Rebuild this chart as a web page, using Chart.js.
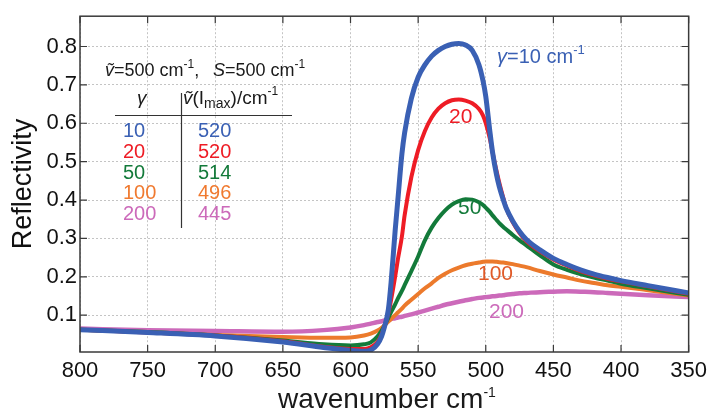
<!DOCTYPE html>
<html>
<head>
<meta charset="utf-8">
<script src="https://cdn.jsdelivr.net/npm/chart.js@4"></script>
<style>
 body{margin:0;background:#fff;}
 #wrap{width:713px;height:416px;}
</style>
</head>
<body>
<div id="wrap"><canvas id="chart"></canvas></div>
<script>
// wavenumber (cm-1) and reflectivity
const wavenumbers=[800,750,700,650,620,600,590,585,580,577,575,572,570,567,565,562,560,555,550,545,540,535,530,525,520,515,510,505,502,500,497,495,492,490,487,485,480,475,470,460,450,440,430,420,410,400,380,350];
const r10=[0.062,0.055,0.046,0.030,0.016,0.008,0.006,0.009,0.025,0.045,0.068,0.115,0.185,0.32,0.40,0.52,0.575,0.665,0.72,0.752,0.775,0.79,0.80,0.806,0.808,0.804,0.79,0.752,0.71,0.67,0.58,0.525,0.465,0.435,0.40,0.38,0.345,0.318,0.297,0.27,0.248,0.232,0.218,0.207,0.198,0.19,0.177,0.158];
const r20=[0.062,0.055,0.047,0.032,0.018,0.012,0.012,0.016,0.03,0.05,0.07,0.105,0.14,0.2,0.245,0.305,0.36,0.46,0.53,0.58,0.615,0.638,0.652,0.66,0.662,0.659,0.652,0.637,0.62,0.6,0.56,0.525,0.475,0.445,0.405,0.38,0.342,0.314,0.293,0.266,0.245,0.229,0.215,0.204,0.195,0.188,0.175,0.156];
const r50=[0.062,0.056,0.047,0.034,0.024,0.021,0.024,0.029,0.045,0.06,0.072,0.093,0.108,0.128,0.143,0.163,0.178,0.215,0.253,0.295,0.328,0.353,0.373,0.388,0.397,0.402,0.401,0.394,0.387,0.38,0.369,0.36,0.348,0.34,0.33,0.324,0.309,0.295,0.282,0.256,0.232,0.218,0.207,0.198,0.19,0.182,0.17,0.153];
const r100=[0.062,0.056,0.048,0.043,0.041,0.042,0.047,0.052,0.06,0.067,0.073,0.083,0.09,0.1,0.107,0.117,0.125,0.14,0.155,0.17,0.183,0.197,0.208,0.217,0.224,0.23,0.234,0.237,0.239,0.24,0.24,0.24,0.239,0.238,0.237,0.236,0.233,0.229,0.225,0.215,0.206,0.198,0.19,0.184,0.178,0.174,0.165,0.151];
const r200=[0.065,0.061,0.059,0.057,0.061,0.068,0.074,0.078,0.082,0.084,0.086,0.088,0.09,0.092,0.094,0.096,0.098,0.102,0.107,0.112,0.117,0.122,0.127,0.131,0.135,0.139,0.142,0.145,0.146,0.147,0.148,0.149,0.15,0.151,0.152,0.153,0.155,0.157,0.158,0.16,0.161,0.162,0.161,0.16,0.158,0.156,0.152,0.147];

const xTicks=[800,750,700,650,600,550,500,450,400,350];
const yTicks=[0.1,0.2,0.3,0.4,0.5,0.6,0.7,0.8];
const gammas=["10","20","50","100","200"];
const peakPos=["520","520","514","496","445"];

const FONT="'Liberation Sans', Arial, sans-serif";
const colors=["#3a60b4","#ee1c25","#137a3a","#ec7a2c","#cc6aba"];
const widths=[5,4,4,4,4.5];
const series=[r10,r20,r50,r100,r200];

Chart.defaults.font.family=FONT;
Chart.defaults.color="#111";

// draw a row of text pieces (sub/superscripts, italics)
function runs(ctx,x,y,parts,color){
 ctx.fillStyle=color;
 for(const p of parts){
  ctx.font=(p.it?"italic ":"")+p.size+"px "+FONT;
  if(p.x!=null) x=p.x;
  ctx.fillText(p.t,x,y+(p.dy||0));
  x+=ctx.measureText(p.t).width;
 }
}

const boxPlugin={
 id:"box",
 afterDatasetsDraw(chart){
  const {ctx,chartArea:a,scales:{x,y}}=chart;
  ctx.save();
  ctx.strokeStyle="#3a3a3a";
  ctx.lineWidth=1.5;
  ctx.strokeRect(a.left,a.top,a.right-a.left,a.bottom-a.top);
  ctx.lineWidth=1.2;
  ctx.beginPath();
  xTicks.forEach(v=>{
   const px=x.getPixelForValue(v);
   ctx.moveTo(px,a.bottom);ctx.lineTo(px,a.bottom-7);
   ctx.moveTo(px,a.top);ctx.lineTo(px,a.top+7);
  });
  yTicks.forEach(v=>{
   const py=y.getPixelForValue(v);
   ctx.moveTo(a.left,py);ctx.lineTo(a.left+7,py);
   ctx.moveTo(a.right,py);ctx.lineTo(a.right-7,py);
  });
  ctx.stroke();
  ctx.restore();
 },
 afterDraw(chart){
  const ctx=chart.ctx;
  ctx.save();
  ctx.textBaseline="alphabetic";
  ctx.textAlign="left";
  const ink="#1a1a1a";

  // x axis title
  runs(ctx,278,408,[{t:"wavenumber cm",size:28},{t:"-1",size:14,dy:-11}],ink);

  // header
  runs(ctx,105,76,[
   {t:"ṽ",size:18,it:true},{t:"=500 cm",size:18},{t:"-1",size:12,dy:-8},{t:",",size:18},
   {x:213,t:"S",size:18,it:true},{t:"=500 cm",size:18},{t:"-1",size:12,dy:-8}
  ],ink);

  // table
  runs(ctx,137,104,[{t:"γ",size:19,it:true}],ink);
  runs(ctx,183,104,[{t:"ṽ",size:19,it:true},{t:"(I",size:19},{t:"max",size:14,dy:4},{t:")/cm",size:19},{t:"-1",size:12,dy:-9}],ink);
  ctx.strokeStyle="#333";
  ctx.lineWidth=1.2;
  ctx.beginPath();
  ctx.moveTo(115,115.5);ctx.lineTo(292,115.5);
  ctx.moveTo(181.5,93);ctx.lineTo(181.5,228);
  ctx.stroke();
  const tableColors=["#3a60b4","#ee1c25","#137a3a","#f07a30","#cc6aba"];
  gammas.forEach((g,i)=>{
   const by=137+i*20.8;
   runs(ctx,123,by,[{t:g,size:20}],tableColors[i]);
   runs(ctx,198,by,[{t:peakPos[i],size:20}],tableColors[i]);
  });

  // curve labels
  runs(ctx,497,63,[{t:"γ",size:20,it:true},{t:"=10 cm",size:20},{t:"-1",size:13,dy:-9}],colors[0]);
  runs(ctx,449,123,[{t:"20",size:21}],colors[1]);
  runs(ctx,458,214,[{t:"50",size:21}],colors[2]);
  runs(ctx,478,280,[{t:"100",size:21}],"#e05a28");
  runs(ctx,489,318,[{t:"200",size:21}],colors[4]);
  ctx.restore();
 }
};

new Chart(document.getElementById("chart"),{
 type:"line",
 data:{
  datasets:series.map((s,i)=>({
   label:"γ="+gammas[i],
   data:wavenumbers.map((w,j)=>({x:w,y:s[j]})),
   borderColor:colors[i],
   borderWidth:widths[i],
   pointRadius:0,
   cubicInterpolationMode:"monotone",
   fill:false
  }))
 },
 options:{
  responsive:true,
  maintainAspectRatio:false,
  animation:false,
  devicePixelRatio:1,
  layout:{padding:{top:5,right:20,left:0,bottom:0}},
  plugins:{legend:{display:false},tooltip:{enabled:false}},
  scales:{
   x:{
    type:"linear",
    reverse:true,
    min:350,max:800,
    afterBuildTicks:s=>{s.ticks=xTicks.map(v=>({value:v}));},
    afterFit:s=>{s.height=64;},
    ticks:{font:{size:22},padding:6,color:"#111",maxRotation:0,autoSkip:false},
    grid:{color:"#c4c4c4",lineWidth:1,drawTicks:false},
    border:{display:false,dash:[2,2]}
   },
   y:{
    min:0.004,max:0.879,
    afterBuildTicks:s=>{s.ticks=yTicks.map(v=>({value:v}));},
    afterFit:s=>{s.width=80;},
    ticks:{font:{size:22},padding:3,color:"#111",callback:v=>v.toFixed(1)},
    grid:{color:"#c4c4c4",lineWidth:1,drawTicks:false},
    border:{display:false,dash:[2,2]},
    title:{display:true,text:"Reflectivity",font:{size:27},color:"#111",padding:{top:7,bottom:0}}
   }
  }
 },
 plugins:[boxPlugin]
});
</script>
</body>
</html>
